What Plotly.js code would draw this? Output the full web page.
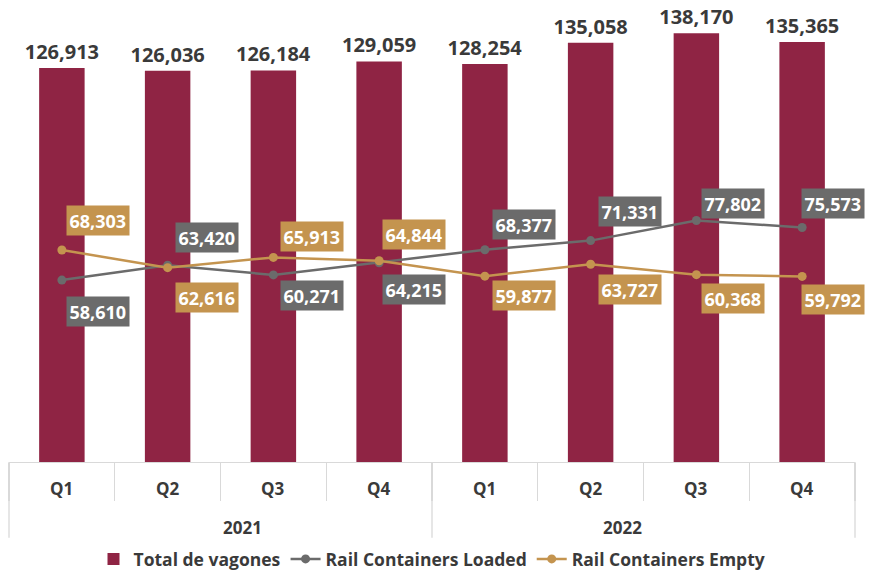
<!DOCTYPE html>
<html>
<head>
<meta charset="utf-8">
<script src="https://cdn.plot.ly/plotly-3.0.1.min.js"></script>
<style>html,body{margin:0;padding:0;background:#fff;}#chart{width:874px;height:577px;}</style>
</head>
<body>
<div id="chart"></div>
<script>
const years = ["2021","2021","2021","2021","2022","2022","2022","2022"];
const quarters = ["Q1","Q2","Q3","Q4","Q1","Q2","Q3","Q4"];
const yearLabels = ["2021","2022"];
const totalVagones = [126913,126036,126184,129059,128254,135058,138170,135365];
const containersLoaded = [58610,63420,60271,64215,68377,71331,77802,75573];
const containersEmpty = [68303,62616,65913,64844,59877,63727,60368,59792];

// label placement (pixel offsets from each point)
const loadedShiftY = [-31,28,-21,-27,25,29,17,24];
const emptyShiftY = [30,-30,21,26,-19,-25,-24,-23];
const shiftX = [36,39,39,35,39,39,37,31];

const fmt = v => v.toLocaleString('en-US');
const FONT = 'Open Sans, sans-serif';
const BAR = '#8f2444', GREY = '#6b6b6b', GOLD = '#c4944f', GRID = '#d9d9d9', TXT = '#3a3a3a';

const x = [years, quarters];

const traces = [
  {type:'bar', name:'Total de vagones', x:x, y:totalVagones,
   marker:{color:BAR}, width:0.43,
   text:totalVagones.map(fmt), textposition:'outside', cliponaxis:false, constraintext:'none',
   textfont:{family:FONT, size:20, color:TXT, weight:700}, hoverinfo:'skip'},
  {type:'scatter', mode:'lines+markers', name:'Rail Containers Loaded', x:x, y:containersLoaded,
   line:{color:GREY, width:2.5}, marker:{color:GREY, size:9}, cliponaxis:false},
  {type:'scatter', mode:'lines+markers', name:'Rail Containers Empty', x:x, y:containersEmpty,
   line:{color:GOLD, width:2.5}, marker:{color:GOLD, size:9}, cliponaxis:false}
];

const annotations = [];
function addLabels(vals, shY, color){
  vals.forEach((v,i)=>{
    annotations.push({x:[years[i],quarters[i]], y:v, xref:'x', yref:'y', text:fmt(v), showarrow:false,
      xshift:shiftX[i], yshift:shY[i], bgcolor:color, borderpad:2.5,
      font:{family:FONT, size:18, color:'#ffffff', weight:700}});
  });
}
addLabels(containersLoaded, loadedShiftY, GREY);
addLabels(containersEmpty, emptyShiftY, GOLD);

// category axis labels (first level: quarters)
quarters.forEach((q,i)=>{
  annotations.push({x:[years[i],q], xref:'x', y:-0.058, yref:'paper', yanchor:'middle', text:q,
    showarrow:false, font:{family:FONT, size:17, color:TXT, weight:700}});
});
// second level: years
yearLabels.forEach((yr,j)=>{
  annotations.push({x:0.25+0.5*j, xref:'paper', y:-0.141, yref:'paper', yanchor:'middle', text:yr,
    showarrow:false, font:{family:FONT, size:17, color:TXT, weight:700}});
});

const shapes = [0,0.5,1].map(p=>({type:'line', xref:'paper', yref:'paper', x0:p, x1:p, y0:0, y1:-0.164,
  line:{color:GRID, width:1.3}}));

const layout = {
  width:874, height:577,
  margin:{l:9, r:19, t:0, b:113},
  paper_bgcolor:'#fff', plot_bgcolor:'#fff',
  font:{family:FONT, color:TXT},
  xaxis:{type:'multicategory', range:[-0.5,7.5], autorange:false, showline:true, linecolor:GRID, linewidth:1.3,
    ticks:'outside', tickson:'boundaries', ticklen:38, tickcolor:GRID, tickwidth:1.3,
    showticklabels:false, showdividers:false, fixedrange:true},
  yaxis:{range:[0,148860], visible:false, fixedrange:true},
  showlegend:true,
  legend:{orientation:'h', x:0.5, xanchor:'center', y:-0.211, yanchor:'middle',
    font:{family:FONT, size:17.5, color:TXT, weight:700}, itemwidth:30, tracegroupgap:0},
  annotations:annotations,
  shapes:shapes
};

Plotly.newPlot('chart', traces, layout, {displayModeBar:false, staticPlot:true});
</script>
</body>
</html>
